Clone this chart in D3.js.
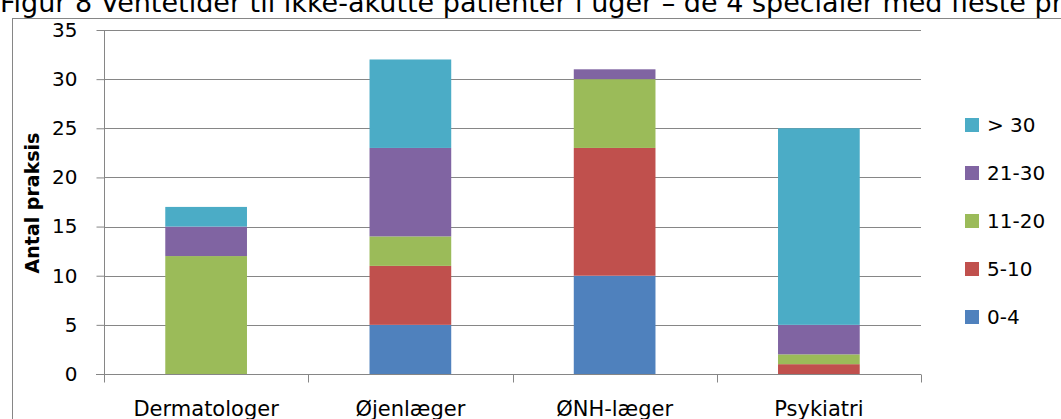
<!DOCTYPE html>
<html>
<head>
<meta charset="utf-8">
<script src="https://cdn.jsdelivr.net/npm/d3@7"></script>
<style>
  body { margin: 0; background: #fff; overflow: hidden; }
  text { font-family: "DejaVu Sans", Verdana, sans-serif; fill: #000; }
</style>
</head>
<body>
<script>
var categories = ["Dermatologer", "Øjenlæger", "ØNH-læger", "Psykiatri"];
var seriesNames = ["0-4", "5-10", "11-20", "21-30", "> 30"];
var colors = ["#4F81BD", "#C0504D", "#9BBB59", "#8064A2", "#4BACC6"];
var v0_4   = [0, 5, 10, 0];
var v5_10  = [0, 6, 13, 1];
var v11_20 = [12, 3, 7, 1];
var v21_30 = [3, 9, 1, 3];
var vOver30 = [2, 9, 0, 20];
var yTicks = [0, 5, 10, 15, 20, 25, 30, 35];

var width = 1061, height = 419;
var margin = {left: 104, top: 30, right: 140, bottom: 45};
var plotW = 921 - margin.left;
var plotH = 374 - margin.top;

var rows = categories.map(function(c, i) {
  return { cat: c, "0-4": v0_4[i], "5-10": v5_10[i], "11-20": v11_20[i], "21-30": v21_30[i], "> 30": vOver30[i] };
});
var stacked = d3.stack().keys(seriesNames)(rows);

var svg = d3.select("body").append("svg").attr("width", width).attr("height", height);

// title (runs off the page in the source)
svg.append("text")
    .attr("x", 0).attr("y", 12)
    .style("font-size", "27px")
    .text("Figur 8 Ventetider til ikke-akutte patienter i uger – de 4 specialer med fleste praksis");

// chart frame
svg.append("rect")
    .attr("x", 12.5).attr("y", 18.5)
    .attr("width", 1100).attr("height", 500)
    .attr("fill", "#fff").attr("stroke", "#868686");

var x = d3.scaleBand().domain(categories).range([0, plotW]).paddingInner(0.6).paddingOuter(0.3);
var xb = d3.scaleBand().domain(categories).range([0, plotW]);
var y = d3.scaleLinear().domain([0, 35]).range([plotH, 0]);

var g = svg.append("g").attr("transform", "translate(" + margin.left + "," + margin.top + ")");

// gridlines
g.append("g").selectAll("line")
    .data(yTicks.filter(function(d){ return d > 0; }))
    .enter().append("line")
    .attr("x1", 0).attr("x2", plotW)
    .attr("y1", function(d){ return Math.round(y(d)) + 0.5; })
    .attr("y2", function(d){ return Math.round(y(d)) + 0.5; })
    .attr("stroke", "#868686");

// bars
g.append("g").selectAll("g")
    .data(stacked)
    .enter().append("g")
    .attr("fill", function(d, i){ return colors[i]; })
    .selectAll("rect")
    .data(function(d){ return d; })
    .enter().append("rect")
    .attr("x", function(d){ return x(d.data.cat); })
    .attr("width", x.bandwidth())
    .attr("y", function(d){ return y(d[1]); })
    .attr("height", function(d){ return y(d[0]) - y(d[1]); });

// y axis
var yAxis = g.append("g").attr("transform", "translate(0.5,0)")
    .call(d3.axisLeft(y).tickValues(yTicks).tickSize(8).tickPadding(19));
yAxis.select(".domain").attr("stroke", "#868686").attr("d", "M0," + y(35) + "V" + (plotH + 8));
yAxis.selectAll(".tick line").attr("stroke", "#868686").attr("x2", -8);
yAxis.selectAll(".tick text").style("font-size", "20px").style("font-family", "DejaVu Sans");

// x axis
var xAxis = g.append("g").attr("transform", "translate(0," + (plotH + 0.5) + ")");
xAxis.append("line").attr("x1", -8).attr("x2", plotW).attr("stroke", "#868686");
xAxis.selectAll(".sep")
    .data(categories.concat(["end"]))
    .enter().append("line")
    .attr("x1", function(d, i){ return i < categories.length ? Math.round(xb(d)) + 0.5 : plotW + 0.5; })
    .attr("x2", function(d, i){ return i < categories.length ? Math.round(xb(d)) + 0.5 : plotW + 0.5; })
    .attr("y1", 0).attr("y2", 8)
    .attr("stroke", "#868686");
xAxis.selectAll(".lbl")
    .data(categories)
    .enter().append("text")
    .attr("x", function(d){ return xb(d) + xb.bandwidth() / 2; })
    .attr("y", 41)
    .attr("text-anchor", "middle")
    .style("font-size", "21px")
    .text(function(d){ return d; });

// y label
svg.append("text")
    .attr("transform", "translate(39,203) rotate(-90)")
    .attr("text-anchor", "middle")
    .style("font-size", "19px")
    .style("font-weight", "bold")
    .text("Antal praksis");

// legend
var legendY = d3.scalePoint().domain(seriesNames.slice().reverse()).range([125, 317]);
var leg = svg.append("g").selectAll("g")
    .data(seriesNames)
    .enter().append("g")
    .attr("transform", function(d){ return "translate(965," + legendY(d) + ")"; });
leg.append("rect")
    .attr("x", 0).attr("y", -7).attr("width", 14).attr("height", 14)
    .attr("fill", function(d, i){ return colors[i]; });
leg.append("text")
    .attr("x", 22).attr("y", 7)
    .style("font-size", "20px")
    .text(function(d){ return d; });
</script>
</body>
</html>
